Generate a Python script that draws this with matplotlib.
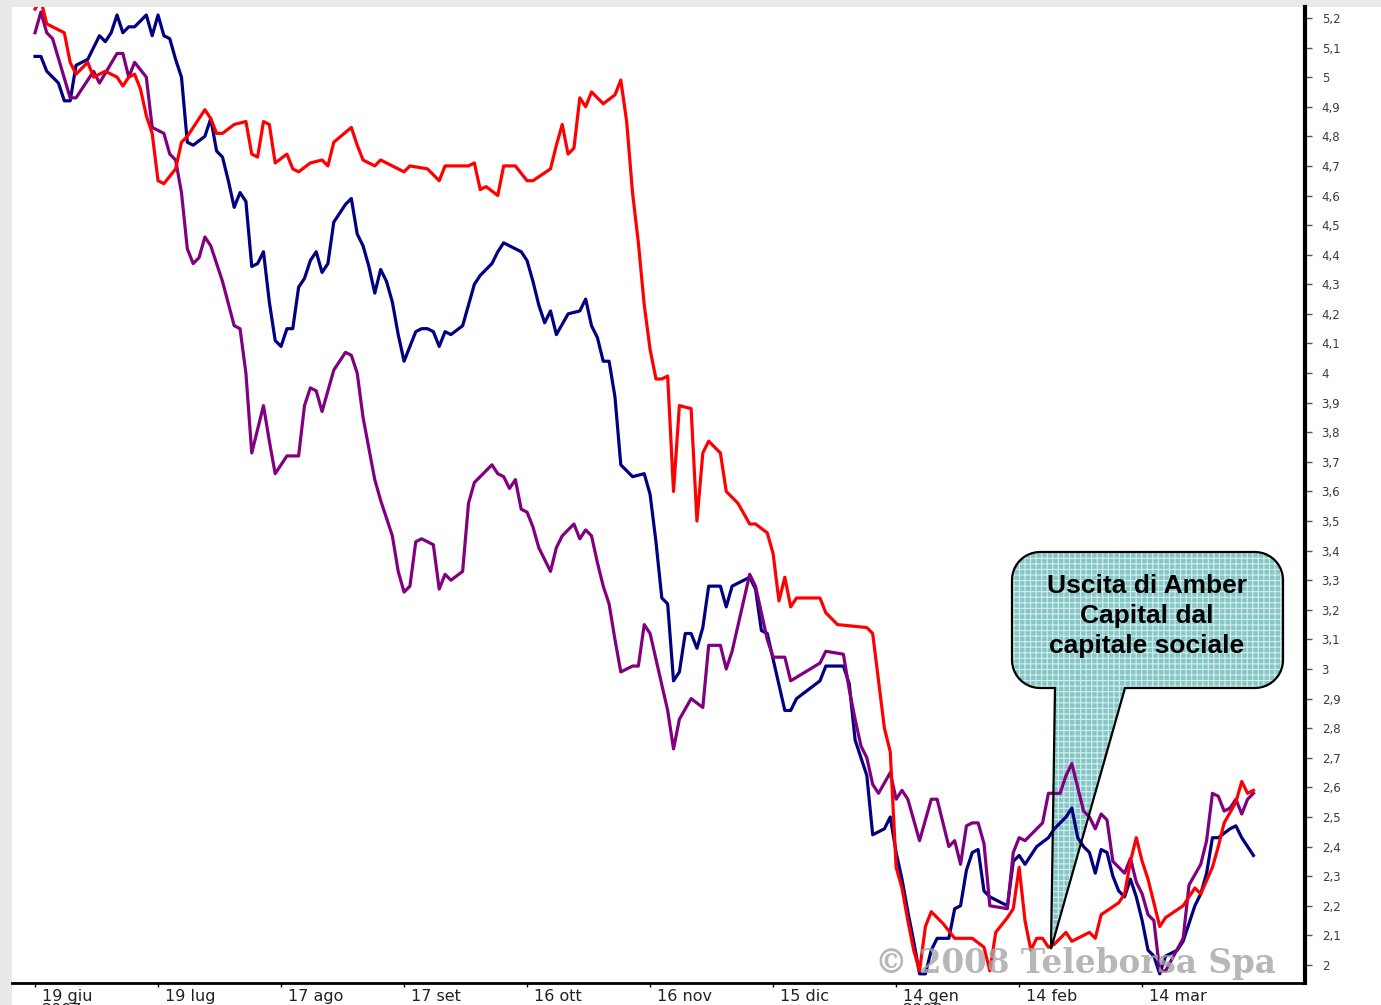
import matplotlib
matplotlib.use('Agg')
import matplotlib.pyplot as plt
import numpy as np
from matplotlib.path import Path
from matplotlib.patches import PathPatch, Rectangle
from matplotlib.ticker import FuncFormatter
from matplotlib import transforms

# bar index (trading sessions, one month label every 21 bars) and closing prices
red_x = [0, 1, 2, 5, 6, 7, 9, 10, 11, 12, 14, 15, 16, 17, 18, 19, 20, 21, 22, 24, 25, 26, 29, 30, 31, 32,
         34, 36, 37, 38, 39, 40, 41, 43, 44, 45, 47, 49, 50, 51, 54, 55, 56, 58, 59, 61, 63, 64, 67, 69,
         70, 74, 75, 76, 77, 79, 80, 82, 84, 85, 88, 89, 90, 91, 92, 93, 94, 95, 97, 99, 100, 101, 102,
         103, 104, 105, 106, 107, 108, 109, 110, 112, 113, 114, 115, 116, 117, 118, 120, 122, 123, 125,
         126, 127, 128, 129, 130, 134, 135, 137, 142, 143, 144, 145, 146, 147, 148, 149, 150, 151, 152,
         153, 155, 157, 160, 162, 163, 164, 166, 167, 168, 169, 170, 171, 172, 173, 174, 176, 177, 180,
         181, 182, 185, 186, 187, 188, 189, 190, 192, 193, 196, 198, 199, 201, 202, 203, 205, 206, 207, 208]
red_y = [5.23, 5.26, 5.18, 5.15, 5.05, 5.01, 5.05, 5.00, 5.01, 5.02, 5.00, 4.97, 5.00, 5.01, 4.96, 4.87,
         4.81, 4.65, 4.64, 4.69, 4.78, 4.80, 4.89, 4.86, 4.81, 4.81, 4.84, 4.85, 4.74, 4.73, 4.85, 4.84,
         4.71, 4.74, 4.69, 4.68, 4.71, 4.72, 4.70, 4.78, 4.83, 4.77, 4.72, 4.70, 4.72, 4.70, 4.68, 4.70,
         4.69, 4.65, 4.70, 4.70, 4.71, 4.62, 4.63, 4.60, 4.70, 4.70, 4.65, 4.65, 4.69, 4.77, 4.84, 4.74,
         4.76, 4.93, 4.90, 4.95, 4.91, 4.94, 4.99, 4.85, 4.61, 4.44, 4.23, 4.08, 3.98, 3.98, 3.99, 3.60,
         3.89, 3.88, 3.50, 3.73, 3.77, 3.75, 3.73, 3.60, 3.56, 3.49, 3.49, 3.46, 3.39, 3.23, 3.31, 3.21,
         3.24, 3.24, 3.19, 3.15, 3.14, 3.12, 2.96, 2.80, 2.72, 2.33, 2.26, 2.15, 2.05, 1.98, 2.13, 2.18,
         2.14, 2.09, 2.09, 2.06, 1.98, 2.11, 2.16, 2.19, 2.33, 2.15, 2.05, 2.09, 2.09, 2.06, 2.07, 2.11,
         2.08, 2.11, 2.09, 2.17, 2.21, 2.24, 2.35, 2.43, 2.35, 2.29, 2.13, 2.16, 2.20, 2.26, 2.24, 2.33,
         2.40, 2.48, 2.55, 2.62, 2.58, 2.59]

navy_x = [0, 1, 2, 4, 5, 6, 7, 9, 10, 11, 12, 13, 14, 15, 16, 17, 19, 20, 21, 22, 23, 24, 25, 26, 27, 29,
          30, 31, 32, 33, 34, 35, 36, 37, 38, 39, 40, 41, 42, 43, 44, 45, 46, 47, 48, 49, 50, 51, 52, 53,
          54, 55, 56, 57, 58, 59, 60, 61, 62, 63, 64, 65, 66, 67, 68, 69, 70, 71, 73, 74, 75, 76, 78, 79,
          80, 82, 83, 84, 85, 86, 87, 88, 89, 91, 93, 94, 95, 96, 97, 98, 99, 100, 102, 104, 105, 106,
          107, 108, 109, 110, 111, 112, 113, 114, 115, 117, 118, 119, 122, 123, 124, 125, 128, 129, 130,
          134, 135, 138, 139, 140, 142, 143, 145, 146, 147, 148, 149, 150, 151, 152, 153, 154, 156, 157,
          158, 159, 160, 161, 162, 163, 164, 166, 167, 168, 169, 171, 173, 174, 176, 177, 178, 179, 180,
          181, 182, 183, 184, 185, 186, 187, 188, 189, 190, 191, 192, 193, 195, 196, 197, 198, 199, 200,
          201, 202, 204, 205, 206, 207, 208]
navy_y = [5.07, 5.07, 5.02, 4.98, 4.92, 4.92, 5.04, 5.06, 5.10, 5.14, 5.12, 5.15, 5.21, 5.15, 5.17, 5.17,
          5.21, 5.14, 5.21, 5.14, 5.13, 5.06, 5.00, 4.78, 4.77, 4.80, 4.86, 4.75, 4.73, 4.65, 4.56, 4.61,
          4.58, 4.36, 4.37, 4.41, 4.24, 4.11, 4.09, 4.15, 4.15, 4.29, 4.32, 4.38, 4.41, 4.34, 4.37, 4.51,
          4.54, 4.57, 4.59, 4.47, 4.43, 4.36, 4.27, 4.35, 4.31, 4.24, 4.13, 4.04, 4.09, 4.14, 4.15, 4.15,
          4.14, 4.09, 4.14, 4.13, 4.16, 4.23, 4.30, 4.33, 4.37, 4.41, 4.44, 4.42, 4.41, 4.38, 4.31, 4.23,
          4.17, 4.21, 4.13, 4.20, 4.21, 4.25, 4.16, 4.12, 4.04, 4.04, 3.92, 3.69, 3.65, 3.66, 3.59, 3.43,
          3.24, 3.22, 2.96, 2.99, 3.12, 3.12, 3.07, 3.14, 3.28, 3.28, 3.21, 3.28, 3.31, 3.27, 3.13, 3.12,
          2.86, 2.86, 2.90, 2.96, 3.01, 3.01, 2.95, 2.76, 2.64, 2.44, 2.46, 2.50, 2.38, 2.29, 2.18, 2.08,
          1.97, 1.97, 2.05, 2.09, 2.09, 2.19, 2.20, 2.32, 2.38, 2.39, 2.25, 2.23, 2.22, 2.20, 2.35, 2.37,
          2.34, 2.40, 2.43, 2.46, 2.50, 2.53, 2.43, 2.40, 2.38, 2.31, 2.39, 2.38, 2.30, 2.25, 2.23, 2.29,
          2.23, 2.15, 2.05, 2.03, 1.97, 2.03, 2.05, 2.08, 2.14, 2.20, 2.24, 2.31, 2.43, 2.43, 2.46, 2.47,
          2.43, 2.40, 2.37]

purple_x = [0, 1, 2, 3, 6, 7, 10, 11, 14, 15, 16, 17, 19, 20, 22, 23, 24, 25, 26, 27, 28, 29, 30, 32, 34,
            35, 36, 37, 39, 40, 41, 43, 45, 46, 47, 48, 49, 51, 53, 54, 55, 56, 58, 59, 61, 62, 63, 64,
            65, 66, 68, 69, 70, 71, 73, 74, 75, 78, 79, 80, 81, 82, 83, 84, 85, 86, 88, 89, 90, 92, 93,
            94, 95, 96, 97, 98, 99, 100, 102, 103, 104, 105, 108, 109, 110, 112, 114, 115, 117, 118, 119,
            122, 123, 125, 126, 128, 129, 134, 135, 138, 139, 140, 141, 142, 143, 144, 146, 147, 148,
            149, 151, 153, 154, 156, 157, 158, 159, 160, 161, 162, 163, 166, 167, 168, 169, 170, 172,
            173, 174, 175, 176, 177, 178, 179, 180, 181, 182, 183, 184, 185, 186, 187, 188, 189, 190,
            191, 192, 193, 196, 197, 199, 200, 201, 202, 203, 204, 205, 206, 207, 208]
purple_y = [5.15, 5.22, 5.15, 5.13, 4.93, 4.93, 5.02, 4.98, 5.08, 5.08, 5.00, 5.05, 5.00, 4.83, 4.81, 4.74,
            4.72, 4.61, 4.42, 4.37, 4.39, 4.46, 4.43, 4.31, 4.16, 4.15, 4.00, 3.73, 3.89, 3.77, 3.66, 3.72,
            3.72, 3.89, 3.95, 3.94, 3.87, 4.01, 4.07, 4.06, 4.00, 3.85, 3.64, 3.57, 3.45, 3.33, 3.26, 3.28,
            3.43, 3.44, 3.42, 3.27, 3.32, 3.30, 3.33, 3.56, 3.63, 3.69, 3.66, 3.65, 3.61, 3.64, 3.54, 3.53,
            3.48, 3.41, 3.33, 3.41, 3.45, 3.49, 3.44, 3.47, 3.45, 3.36, 3.28, 3.22, 3.10, 2.99, 3.01, 3.01,
            3.15, 3.12, 2.86, 2.73, 2.83, 2.90, 2.87, 3.08, 3.08, 3.00, 3.06, 3.32, 3.28, 3.10, 3.04, 3.04,
            2.96, 3.02, 3.06, 3.05, 2.93, 2.83, 2.74, 2.70, 2.61, 2.58, 2.65, 2.56, 2.59, 2.56, 2.42, 2.56,
            2.56, 2.40, 2.42, 2.34, 2.47, 2.48, 2.48, 2.41, 2.20, 2.19, 2.38, 2.43, 2.42, 2.44, 2.48, 2.58,
            2.58, 2.58, 2.64, 2.68, 2.60, 2.52, 2.50, 2.46, 2.51, 2.49, 2.35, 2.33, 2.31, 2.36, 2.28, 2.24,
            2.17, 2.15, 1.98, 1.98, 2.09, 2.27, 2.34, 2.42, 2.58, 2.57, 2.52, 2.53, 2.56, 2.51, 2.56, 2.58]

tick_bars = [0, 21, 42, 63, 84, 105, 126, 147, 168, 189]
tick_labels = ['19 giu\n2007', '19 lug', '17 ago', '17 set', '16 ott', '16 nov', '15 dic',
               '14 gen\n2008', '14 feb', '14 mar']
callout_text = 'Uscita di Amber\nCapital dal\ncapitale sociale'

W, H = 1381, 1005
plt.rcParams['hatch.linewidth'] = 0.8

fig = plt.figure(figsize=(W / 100, H / 100), dpi=100, facecolor='#e9e9e9')
# white slide panel behind the chart
fig.patches.append(Rectangle((12 / W, 0), 1 - 12 / W, 1 - 7 / H, transform=fig.transFigure,
                             facecolor='white', edgecolor='none', zorder=-5))

ax = fig.add_axes([12 / W, 1 - 983 / H, (1305 - 12) / W, (983 - 7) / H])
ax.set_facecolor('none')

ax.plot(navy_x, navy_y, color='#000080', lw=2.3, zorder=2)
ax.plot(purple_x, purple_y, color='#800080', lw=2.3, zorder=2)
ax.plot(red_x, red_y, color='#ff0000', lw=2.3, zorder=2)

ax.set_xlim(-3.93, 216.8)
ax.set_ylim(1.939, 5.237)

for s in ['left', 'top']:
    ax.spines[s].set_visible(False)
ax.spines['right'].set_linewidth(3)
ax.spines['bottom'].set_linewidth(2)

ax.yaxis.tick_right()
ax.set_yticks(np.round(np.arange(2.0, 5.21, 0.1), 1))
ax.yaxis.set_major_formatter(FuncFormatter(
    lambda v, p: f'{v:.1f}'.rstrip('0').rstrip('.').replace('.', ',')))
ax.tick_params(axis='y', direction='out', length=5, width=1, color='#555555', pad=7,
               labelsize=8.5, labelcolor='#3a3a3a')

ax.set_xticks(tick_bars)
ax.set_xticklabels(tick_labels, ha='left', linespacing=0.95)
ax.tick_params(axis='x', direction='out', length=3, width=1, pad=1, labelsize=11.5,
               labelcolor='#222222')
shift = transforms.ScaledTranslation(5 / 72, 0, fig.dpi_scale_trans)
for lab in ax.get_xticklabels():
    lab.set_transform(lab.get_transform() + shift)

# callout (pixel coordinates of the slide, y downward)
pix = transforms.Affine2D().scale(1 / W, -1 / H).translate(0, 1) + fig.transFigure
x0, y0, x1, y1, r = 1012, 552, 1283, 688, 28
base_l, base_r, tip = 1055, 1125, (1051, 949)


def arc(cx, cy, a0, a1):
    t = np.radians(np.linspace(a0, a1, 12))
    return list(zip(cx + r * np.cos(t), cy + r * np.sin(t)))


verts = []
verts += arc(x0 + r, y0 + r, 180, 270)
verts += arc(x1 - r, y0 + r, 270, 360)
verts += arc(x1 - r, y1 - r, 0, 90)
verts += [(base_r, y1), tip, (base_l, y1)]
verts += arc(x0 + r, y1 - r, 90, 180)
verts.append(verts[0])
shape = Path(verts, [Path.MOVETO] + [Path.LINETO] * (len(verts) - 2) + [Path.CLOSEPOLY])

ax.add_patch(PathPatch(shape, transform=pix, facecolor='#86c6c6', edgecolor='#d4eeee',
                       lw=0, hatch='+++', zorder=1, clip_on=False))
ax.add_patch(PathPatch(shape, transform=pix, facecolor='none', edgecolor='black',
                       lw=1.6, zorder=3, clip_on=False))
ax.text(1147, 616, callout_text, transform=pix, ha='center', va='center', fontsize=19,
        fontweight='bold', family='Liberation Sans', linespacing=1.32, color='black', zorder=4)

ax.text(1075, 964, '\u00a9 2008 Teleborsa Spa', transform=pix, ha='center', va='center',
        fontsize=23.5, fontweight='bold', family='DejaVu Serif', color='#a5a5a5', alpha=0.8,
        zorder=5)

fig.savefig('out.png', dpi=100, facecolor=fig.get_facecolor())
plt.close(fig)
